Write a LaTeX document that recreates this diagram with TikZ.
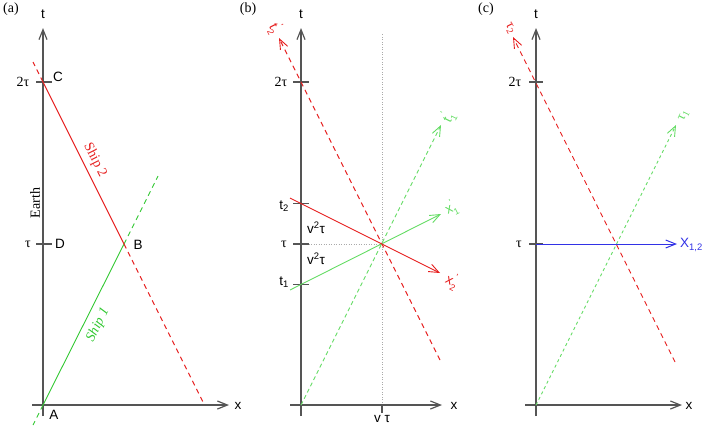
\documentclass[tikz,border=0pt]{standalone}
\usepackage{fontspec}
\setmainfont{Liberation Serif}
\setsansfont{Liberation Sans}
\usetikzlibrary{arrows.meta}
\definecolor{rd}{RGB}{230,30,30}
\definecolor{gn}{RGB}{50,200,50}
\definecolor{lgn}{RGB}{100,220,100}
\definecolor{bl}{RGB}{50,50,230}
\definecolor{ax}{RGB}{85,85,85}
\definecolor{dot}{RGB}{170,170,170}
\tikzset{
  tip/.style={-{Straight Barb[length=10pt,width=8pt]}},
  axis/.style={draw=ax, line width=1.2pt},
  axarrow/.style={axis, tip},
  tickmark/.style={draw=ax, line width=1.2pt},
  sl/.style={font=\sffamily\fontsize{13.5}{13.5}\selectfont, inner sep=0pt},
  rl/.style={font=\rmfamily\fontsize{14}{14}\selectfont, inner sep=0pt},
  redsolid/.style={draw=rd, line width=0.9pt},
  reddash/.style={draw=rd, line width=0.9pt, dash pattern=on 5pt off 4pt},
  greensolid/.style={draw=gn, line width=0.9pt},
  greendash/.style={draw=gn, line width=0.9pt, dash pattern=on 5pt off 4pt},
  lgreendash/.style={draw=lgn, line width=0.9pt, dash pattern=on 4pt off 3pt},
  dotline/.style={draw=dot, line width=0.8pt, dash pattern=on 1pt off 1.5pt},
}
\newcommand{\tsub}[1]{\textsubscript{#1}}
\newcommand{\psub}[1]{\makebox[0pt][l]{\raisebox{0.55em}{\fontsize{9}{9}\selectfont\kern0.5pt\textquotesingle}}\raisebox{-0.3em}{\fontsize{9}{9}\selectfont #1}}
\begin{document}
\begin{tikzpicture}[x=1pt,y=-1pt]
\useasboundingbox (0,0) rectangle (706,429);

% ================= panel (a)
\node[rl] (la) at (11,9) {(a)};
\coordinate (aO) at (43,405);
\coordinate (aTop) at (43,28);
\coordinate (aBot) at (43,416);
\coordinate (aXl) at (32,405);
\coordinate (aXr) at (229,405);
\coordinate (aC) at (43,82);
\coordinate (aD) at (43,244);
\coordinate (aB) at (124,244);
\coordinate (aG1) at (158,176);
\coordinate (aG0) at (33,425);
\coordinate (aR1) at (204.5,405);
\coordinate (aR0) at (33,62);
\draw[axarrow] (aBot) -- (aTop);
\draw[axarrow] (aXl) -- (aXr);
\draw[tickmark] ([xshift=-7]aC) -- ([xshift=9]aC);
\draw[tickmark] ([xshift=-7]aD) -- ([xshift=9]aD);
\node[sl] (at) at (43,14) {t};
\node[sl] (ax) at (238,406) {x};
\node[rl] (a2tau) at (23,82) {2τ};
\node[rl] (atau) at (28,244) {τ};
\node[sl] (aClab) at (58,77) {C};
\node[sl] (aDlab) at (60,244) {D};
\node[sl] (aBlab) at (138,245) {B};
\node[sl] (aAlab) at (54,415) {A};
\draw[greensolid] (aO) -- (aB);
\draw[greendash] (aB) -- (aG1);
\draw[greendash] (aO) -- (aG0);
\draw[redsolid] (aC) -- (aB);
\draw[reddash] (aB) -- (aR1);
\draw[reddash] (aC) -- (aR0);
\node[rl, rotate=90] (earth) at (35,203) {Earth};
\node[rl, rd, rotate=-63.4] (ship2) at (95,160) {Ship 2};
\node[rl, gn, rotate=63.4] (ship1) at (98,325) {\textit{Ship 1}};

% ================= panel (b)
\node[rl] (lb) at (248,9) {(b)};
\coordinate (bO) at (301,405);
\coordinate (bTop) at (301,28);
\coordinate (bBot) at (301,416);
\coordinate (bXl) at (290,405);
\coordinate (bXr) at (442,405);
\coordinate (b2t) at (301,82);
\coordinate (bt) at (301,244);
\coordinate (bt2) at (301,203.5);
\coordinate (bt1) at (301,284.5);
\coordinate (bE) at (382,244);
\coordinate (bVt) at (382,405);
\coordinate (bVtTop) at (382,33);
\coordinate (bRs0) at (290,198);
\coordinate (bRs1) at (440,273);
\coordinate (bGs0) at (290,290);
\coordinate (bGs1) at (441,214);
\coordinate (bRd0) at (279,38);
\coordinate (bRd1) at (440,360);
\coordinate (bGd1) at (441,125);
\draw[dotline] (bVt) -- (bVtTop);
\draw[dotline] (bt) -- (bE);
\draw[axarrow] (bBot) -- (bTop);
\draw[axarrow] (bXl) -- (bXr);
\draw[tickmark] ([xshift=-8]b2t) -- ([xshift=8]b2t);
\draw[tickmark] ([xshift=-8]bt) -- ([xshift=8]bt);
\draw[tickmark] ([xshift=-8]bt2) -- ([xshift=8]bt2);
\draw[tickmark] ([xshift=-8]bt1) -- ([xshift=8]bt1);
\draw[tickmark] ([yshift=-8]bVt) -- (bVt);
\node[sl] (bt_) at (301,14) {t};
\node[sl] (bx) at (454,406) {x};
\node[rl] (b2tau) at (281,82) {2τ};
\node[rl] (btau) at (284,244) {τ};
\node[sl] (bt2lab) at (284,206) {t\tsub{2}};
\node[sl] (bt1lab) at (284,282) {t\tsub{1}};
\node[sl] (bv1) at (316,228) {v\textsuperscript{2}τ};
\node[sl] (bv2) at (316,259) {v\textsuperscript{2}τ};
\node[sl] (bvtau) at (382,419) {v τ};
\draw[lgreendash, tip] (bO) -- (bGd1);
\draw[reddash, tip] (bRd1) -- (bRd0);
\draw[greensolid, draw=lgn, tip] (bGs0) -- (bGs1);
\draw[redsolid, tip] (bRs0) -- (bRs1);
\node[sl, rd, rotate=-63.4] (btp2) at (275,28) {t\psub{2}};
\node[sl, lgn, rotate=63.4] (btp1) at (448,117) {t\psub{1}};
\node[sl, lgn, rotate=26.6] (bxp1) at (451,208) {x\psub{1}};
\node[sl, rd, rotate=-26.6] (bxp2) at (452,281) {x\psub{2}};

% ================= panel (c)
\node[rl] (lc) at (486,9) {(c)};
\coordinate (cO) at (536,405);
\coordinate (cTop) at (536,28);
\coordinate (cBot) at (536,416);
\coordinate (cXl) at (525,405);
\coordinate (cXr) at (682,405);
\coordinate (c2t) at (536,82);
\coordinate (ct) at (536,244);
\coordinate (cB1) at (677,244);
\coordinate (cRd0) at (513,37);
\coordinate (cRd1) at (675,362);
\coordinate (cGd1) at (676,125);
\draw[axarrow] (cBot) -- (cTop);
\draw[axarrow] (cXl) -- (cXr);
\draw[tickmark] ([xshift=-7]c2t) -- ([xshift=7]c2t);
\draw[tickmark] ([xshift=-7]ct) -- ([xshift=7]ct);
\node[sl] (ct_) at (536,14) {t};
\node[sl] (cx) at (689,406) {x};
\node[rl] (c2tau) at (515,82) {2τ};
\node[rl] (ctau) at (519,244) {τ};
\draw[lgreendash, dash pattern=on 3pt off 3pt, tip] (cO) -- (cGd1);
\draw[reddash, tip] (cRd1) -- (cRd0);
\draw[draw=bl, line width=1pt, tip] (ct) -- (cB1);
\node[sl, bl, anchor=west] (cX) at (680,245) {X\tsub{1,2}};
\node[rl, rd, rotate=-63.4] (ctau2) at (510,28) {τ\tsub{2}};
\node[rl, lgn, rotate=63.4] (ctau1) at (684,116) {τ\tsub{1}};
\end{tikzpicture}
\end{document}
